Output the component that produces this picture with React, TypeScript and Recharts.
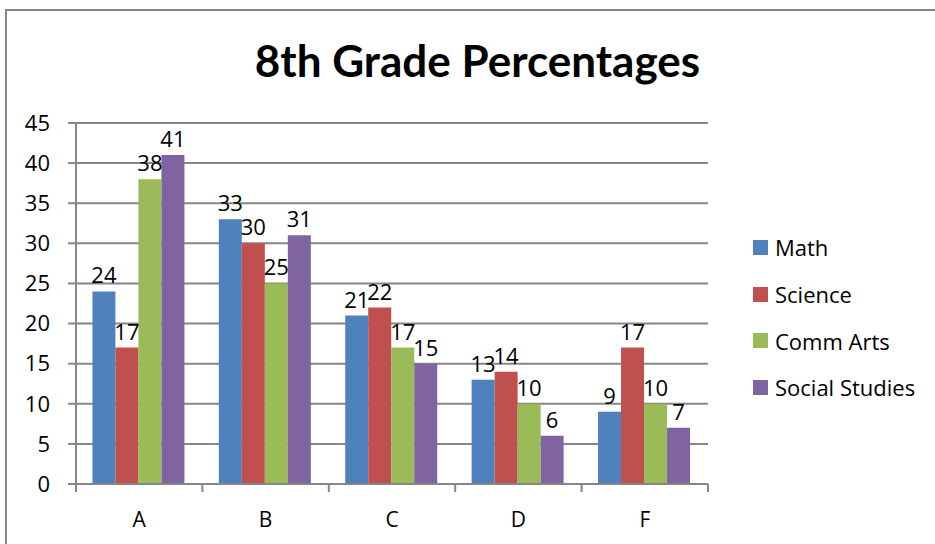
import { Bar, BarChart, CartesianGrid, LabelList, XAxis, YAxis } from 'recharts'

const grades = ['A', 'B', 'C', 'D', 'F']
const math = [24, 33, 21, 13, 9]
const science = [17, 30, 22, 14, 17]
const commArts = [38, 25, 17, 10, 10]
const socialStudies = [41, 31, 15, 6, 7]
const yTicks = [0, 5, 10, 15, 20, 25, 30, 35, 40, 45]

const series = [
	{ key: 'math', name: 'Math', color: '#4f81bd' },
	{ key: 'science', name: 'Science', color: '#c0504d' },
	{ key: 'commArts', name: 'Comm Arts', color: '#9bbb59' },
	{ key: 'socialStudies', name: 'Social Studies', color: '#8064a2' },
]

const data = grades.map((grade, i) => ({
	grade,
	math: math[i],
	science: science[i],
	commArts: commArts[i],
	socialStudies: socialStudies[i],
}))

const FONT = '"Open Sans", sans-serif'
const TITLE_FONT = 'Lato, sans-serif'
const GRID = '#868686'
const PLOT_LEFT = 76
const PLOT_RIGHT = 708
const BAND = (PLOT_RIGHT - PLOT_LEFT) / grades.length

const GradeTick = (props: any) => {
	const { x, y, payload, index } = props
	const left = x - BAND / 2
	return (
		<g>
			<line x1={left} x2={left} y1={y - 8} y2={y} stroke={GRID} strokeWidth={2} />
			{index === grades.length - 1 && (
				<line x1={left + BAND} x2={left + BAND} y1={y - 8} y2={y} stroke={GRID} strokeWidth={2} />
			)}
			<text x={x} y={y} dy={35} textAnchor='middle' fill='#000' style={{ fontSize: 21, fontFamily: FONT }}>
				{payload.value}
			</text>
		</g>
	)
}

export default function App() {
	return (
		<div style={{ position: 'absolute', left: 0, top: 0, width: 935, height: 544, overflow: 'hidden', background: '#fff' }}>
			<div
				style={{
					position: 'absolute',
					left: 5,
					top: 9,
					width: 960,
					height: 600,
					borderLeft: `2px solid ${GRID}`,
					borderTop: `2px solid ${GRID}`,
				}}
			/>
			<div
				style={{
					position: 'absolute',
					left: 0,
					width: 955,
					top: 32,
					textAlign: 'center',
					fontFamily: TITLE_FONT,
					fontWeight: 700,
					fontSize: 44,
					lineHeight: '56px',
					color: '#000',
				}}
			>
				8th Grade Percentages
			</div>

			<div style={{ position: 'absolute', left: 0, top: 0 }}>
				<BarChart
					width={935}
					height={544}
					data={data}
					margin={{ top: 123, right: 935 - PLOT_RIGHT, bottom: 20, left: 16 }}
					barCategoryGap='13%'
					barGap={0}
				>
					<CartesianGrid vertical={false} stroke={GRID} strokeWidth={2} />
					<XAxis
						dataKey='grade'
						axisLine={{ stroke: GRID, strokeWidth: 2 }}
						tickLine={false}
						tickSize={8}
						tickMargin={0}
						height={40}
						interval={0}
						tick={<GradeTick />}
					/>
					<YAxis
						width={60}
						domain={[0, 45]}
						ticks={yTicks}
						interval={0}
						axisLine={{ stroke: GRID, strokeWidth: 2 }}
						tickLine={{ stroke: GRID, strokeWidth: 2 }}
						tickSize={8}
						tickMargin={18}
						tick={{ fill: '#000', fontSize: 22, fontFamily: FONT }}
					/>
					{series.map(s => (
						<Bar key={s.key} dataKey={s.key} name={s.name} fill={s.color} isAnimationActive={false}>
							<LabelList
								dataKey={s.key}
								position='top'
								offset={8}
								fill='#000'
								style={{ fontSize: 22, fontFamily: FONT }}
							/>
						</Bar>
					))}
				</BarChart>
			</div>

			<div style={{ position: 'absolute', left: 753, top: 224, fontFamily: FONT, fontSize: 22, color: '#000' }}>
				{series.map(s => (
					<div key={s.key} style={{ display: 'flex', alignItems: 'center', height: 46.7 }}>
						<span style={{ width: 15, height: 15, background: s.color, marginRight: 7, display: 'inline-block' }} />
						<span>{s.name}</span>
					</div>
				))}
			</div>
		</div>
	)
}
